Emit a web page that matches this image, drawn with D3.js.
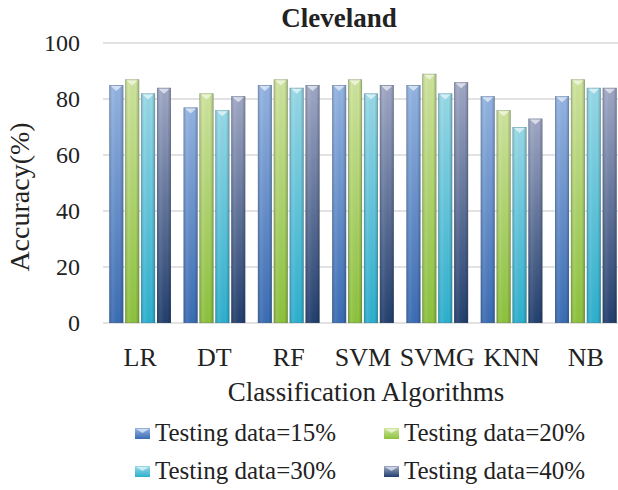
<!DOCTYPE html>
<html>
<head>
<meta charset="utf-8">
<script src="https://cdn.jsdelivr.net/npm/d3@7"></script>
<style>
  body { margin: 0; background: #fff; }
  svg text { font-family: "Liberation Serif", "DejaVu Serif", serif; fill: #222; }
</style>
</head>
<body>
<div id="chart"></div>
<script>
// data
const algorithms = ["LR", "DT", "RF", "SVM", "SVMG", "KNN", "NB"];
const seriesNames = ["Testing data=15%", "Testing data=20%", "Testing data=30%", "Testing data=40%"];
const test15 = [85, 77, 85, 85, 85, 81, 81];
const test20 = [87, 82, 87, 87, 89, 76, 87];
const test30 = [82, 76, 84, 82, 82, 70, 84];
const test40 = [84, 81, 85, 85, 86, 73, 84];
const yTicks = [0, 20, 40, 60, 80, 100];

const seriesValues = [test15, test20, test30, test40];
// top / bottom shades of each series
const topColors = ["#94b4e2", "#cfe49e", "#98d9e7", "#a0a8c6"];
const bottomColors = ["#3a6cb4", "#8cc23c", "#2cb0cf", "#223f6e"];

const width = 618, height = 490;
const serif = '"Liberation Serif", "Times New Roman", "DejaVu Serif", serif';

const svg = d3.select("#chart").append("svg")
    .attr("width", width)
    .attr("height", height)
    .attr("font-family", serif);

const defs = svg.append("defs");
seriesNames.forEach((s, i) => {
    let g = defs.append("linearGradient")
        .attr("id", "grad" + i)
        .attr("x1", 0).attr("y1", 0).attr("x2", 0).attr("y2", 1);
    g.append("stop").attr("offset", "0%").attr("stop-color", topColors[i]);
    g.append("stop").attr("offset", "100%").attr("stop-color", bottomColors[i]);
});
// darker side edges
let side = defs.append("linearGradient")
    .attr("id", "side")
    .attr("x1", 0).attr("y1", 0).attr("x2", 1).attr("y2", 0);
side.append("stop").attr("offset", "0%").attr("stop-color", "#000").attr("stop-opacity", 0.18);
side.append("stop").attr("offset", "25%").attr("stop-color", "#fff").attr("stop-opacity", 0.08);
side.append("stop").attr("offset", "75%").attr("stop-color", "#000").attr("stop-opacity", 0);
side.append("stop").attr("offset", "100%").attr("stop-color", "#000").attr("stop-opacity", 0.22);

// scales
const y = d3.scaleLinear().domain([0, 100]).range([323, 43]);

const x0 = d3.scaleBand()
    .domain(algorithms)
    .range([103, 623])
    .paddingInner(0.17)
    .paddingOuter(0.085);

const x1 = d3.scaleBand()
    .domain(d3.range(seriesNames.length))
    .range([0, x0.bandwidth()])
    .paddingInner(0.12);

// gridlines
svg.append("g")
    .selectAll("line")
    .data(yTicks)
    .enter().append("line")
    .attr("x1", 103)
    .attr("x2", width)
    .attr("y1", d => y(d))
    .attr("y2", d => y(d))
    .attr("stroke", "#d9d9d9")
    .attr("stroke-width", 1.5);

// y tick labels
svg.append("g")
    .selectAll("text")
    .data(yTicks)
    .enter().append("text")
    .attr("x", 80)
    .attr("y", d => y(d))
    .attr("dy", "0.34em")
    .attr("text-anchor", "end")
    .attr("font-family", serif)
    .style("font-size", "24px")
    .text(d => d);

// bars
let rows = [];
algorithms.forEach((a, i) => {
    seriesValues.forEach((vals, j) => {
        rows.push({alg: a, s: j, value: vals[i]});
    });
});

const bars = svg.append("g").selectAll(".bar")
    .data(rows)
    .enter().append("g")
    .attr("class", "bar")
    .attr("transform", d => `translate(${x0(d.alg) + x1(d.s)},0)`);

bars.append("rect")
    .attr("x", 0)
    .attr("y", d => y(d.value))
    .attr("width", x1.bandwidth())
    .attr("height", d => y(0) - y(d.value))
    .attr("fill", d => `url(#grad${d.s})`);

bars.append("rect")
    .attr("x", 0)
    .attr("y", d => y(d.value))
    .attr("width", x1.bandwidth())
    .attr("height", d => y(0) - y(d.value))
    .attr("fill", "url(#side)");

// bevel notch on top of each bar
bars.append("path")
    .attr("d", d => {
        let w = x1.bandwidth(), t = y(d.value);
        return `M1.5,${t + 1} L${w - 1.5},${t + 1} L${w / 2},${t + 6} Z`;
    })
    .attr("fill", "#fff")
    .attr("opacity", 0.6);

bars.append("rect")
    .attr("x", 0.3)
    .attr("y", d => y(d.value) + 0.3)
    .attr("width", x1.bandwidth() - 0.6)
    .attr("height", d => y(0) - y(d.value) - 0.6)
    .attr("fill", "none")
    .attr("stroke", "#5a6070")
    .attr("stroke-opacity", 0.35)
    .attr("stroke-width", 0.6);

// category labels
svg.append("g")
    .selectAll("text")
    .data(algorithms)
    .enter().append("text")
    .attr("x", d => x0(d) + x0.bandwidth() / 2)
    .attr("y", 366)
    .attr("text-anchor", "middle")
    .attr("font-family", serif)
    .style("font-size", "26px")
    .text(d => d);

// title
svg.append("text")
    .attr("x", 339)
    .attr("y", 27)
    .attr("text-anchor", "middle")
    .attr("font-family", serif)
    .style("font-size", "27px")
    .style("font-weight", "bold")
    .text("Cleveland");

// axis titles
svg.append("text")
    .attr("x", 366)
    .attr("y", 401)
    .attr("text-anchor", "middle")
    .attr("font-family", serif)
    .style("font-size", "27px")
    .text("Classification Algorithms");

svg.append("text")
    .attr("transform", "translate(29,197) rotate(-90)")
    .attr("text-anchor", "middle")
    .attr("font-family", serif)
    .style("font-size", "28px")
    .text("Accuracy(%)");

// legend
const legendX = [135, 384];
const legendY = [441, 479];

const legend = svg.append("g").selectAll(".legend")
    .data(seriesNames)
    .enter().append("g")
    .attr("class", "legend")
    .attr("transform", (d, i) => `translate(${legendX[i % 2]},${legendY[Math.floor(i / 2)]})`);

legend.append("rect")
    .attr("x", 0)
    .attr("y", -13)
    .attr("width", 15)
    .attr("height", 11)
    .attr("fill", (d, i) => `url(#grad${i})`);

legend.append("path")
    .attr("d", "M1,-12 L14,-12 L7.5,-8 Z")
    .attr("fill", "#fff")
    .attr("opacity", 0.6);

legend.append("text")
    .attr("x", 20)
    .attr("y", 0)
    .attr("font-family", serif)
    .style("font-size", "25px")
    .text(d => d);
</script>
</body>
</html>
